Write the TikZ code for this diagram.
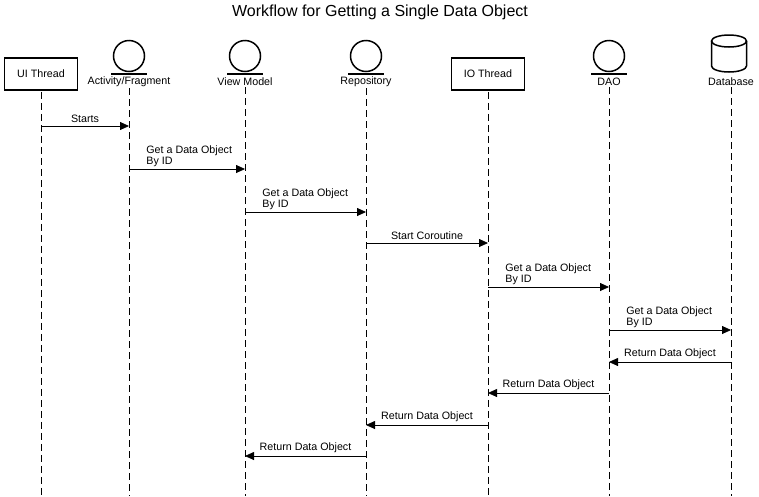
\documentclass[tikz,border=0pt]{standalone}
\usepackage{fontspec}
\setmainfont{Liberation Sans}
\usetikzlibrary{arrows.meta}

\begin{document}
\begin{tikzpicture}[x=1pt,y=-1pt]
	\tikzstyle{every node}+=[inner sep=0pt, font=\fontsize{10.7}{11}\selectfont]
	\tikzstyle{thread}=[draw, line width=1.5pt, minimum width=73pt, minimum height=32pt]
	\tikzstyle{actor}=[draw, circle, line width=1.5pt, minimum size=31pt]
	\tikzstyle{lifeline}=[dash pattern=on 7pt off 4pt, line width=0.8pt]
	\tikzstyle{msg}=[line width=0.8pt, -{Triangle[length=9pt,width=8pt]}]
	\tikzstyle{call}=[anchor=south west, align=left, xshift=17pt, yshift=2pt]
	\tikzstyle{reply}=[midway, anchor=south, yshift=3pt]
	\useasboundingbox (0,0) rectangle (759,496);
	% title
	\node (title) at (380,12) {\fontsize{16}{18}\selectfont Workflow for Getting a Single Data Object};
	% participants
	\node [thread] (ui) at (41,74) {UI Thread};
	\node [thread] (io) at (488,74) {IO Thread};
	\node [actor] (actico) at (129,56) {};
	\node [actor] (vmico) at (245,56) {};
	\node [actor] (repoico) at (366,56) {};
	\node [actor] (daoico) at (609,56) {};
	\draw [line width=1.5pt] (actico.south) ++(-18,1.5) -- ++(36,0);
	\draw [line width=1.5pt] (vmico.south) ++(-18,1.5) -- ++(36,0);
	\draw [line width=1.5pt] (repoico.south) ++(-18,1.5) -- ++(36,0);
	\draw [line width=1.5pt] (daoico.south) ++(-18,1.5) -- ++(36,0);
	% database cylinder
	\draw [line width=1.5pt] (729,41) ellipse [x radius=17.5, y radius=6];
	\draw [line width=1.5pt] (711.5,41) -- (711.5,66)
		arc [start angle=180, end angle=0, x radius=17.5, y radius=6] -- (746.5,41);
	\node (act) at (129,82) {Activity/Fragment};
	\node (vm) at (245,82) {View Model};
	\node (repo) at (366,82) {Repository};
	\node (dao) at (609,82) {DAO};
	\node (db) at (731,82) {Database};
	% lifelines
	\foreach \n in {ui,act,vm,repo,io,dao,db}
		\draw [lifeline] (\n.south) ++(0,1) -- (\n |- 0,496);
	% calls
	\draw [msg] (ui |- 0,126) -- (act |- 0,126) node [reply] {Starts};
	\draw [msg] (act |- 0,169) -- (vm |- 0,169) node [pos=0, call] {Get a Data Object\\By ID};
	\draw [msg] (vm |- 0,212) -- (repo |- 0,212) node [pos=0, call] {Get a Data Object\\By ID};
	\draw [msg] (repo |- 0,243) -- (io |- 0,243) node [reply] {Start Coroutine};
	\draw [msg] (io |- 0,287) -- (dao |- 0,287) node [pos=0, call] {Get a Data Object\\By ID};
	\draw [msg] (dao |- 0,330) -- (db |- 0,330) node [pos=0, call] {Get a Data Object\\By ID};
	% returns
	\draw [msg] (db |- 0,362) -- (dao |- 0,362) node [reply] {Return Data Object};
	\draw [msg] (dao |- 0,393) -- (io |- 0,393) node [reply] {Return Data Object};
	\draw [msg] (io |- 0,425) -- (repo |- 0,425) node [reply] {Return Data Object};
	\draw [msg] (repo |- 0,456) -- (vm |- 0,456) node [reply] {Return Data Object};
\end{tikzpicture}
\end{document}
